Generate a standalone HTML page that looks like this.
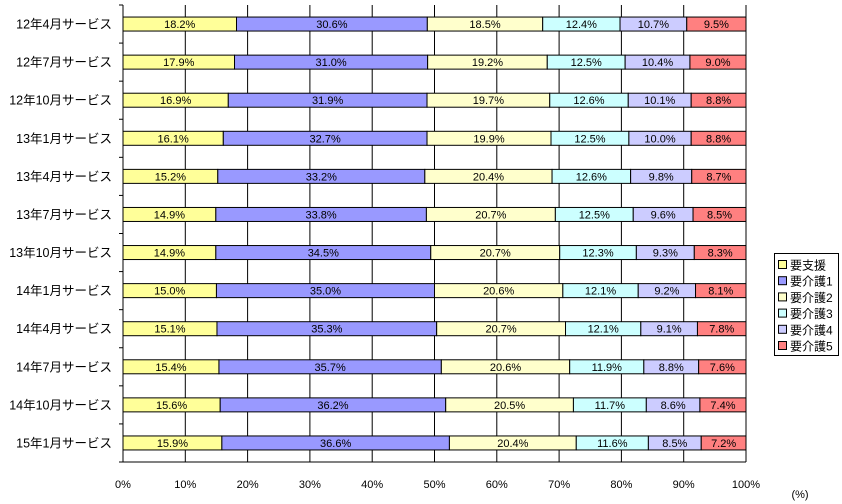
<!DOCTYPE html>
<html><head><meta charset="utf-8">
<style>
body{margin:0;background:#fff;}
svg{display:block;font-family:"Liberation Sans","Noto Sans CJK JP",sans-serif;}
</style></head>
<body>
<svg id="chart" width="842" height="504" viewBox="0 0 842 504"></svg>
<script>
const categories=["12年4月サービス","12年7月サービス","12年10月サービス","13年1月サービス","13年4月サービス","13年7月サービス","13年10月サービス","14年1月サービス","14年4月サービス","14年7月サービス","14年10月サービス","15年1月サービス"];
const seriesNames=["要支援","要介護1","要介護2","要介護3","要介護4","要介護5"];
const s0=[18.2,17.9,16.9,16.1,15.2,14.9,14.9,15.0,15.1,15.4,15.6,15.9];
const s1=[30.6,31.0,31.9,32.7,33.2,33.8,34.5,35.0,35.3,35.7,36.2,36.6];
const s2=[18.5,19.2,19.7,19.9,20.4,20.7,20.7,20.6,20.7,20.6,20.5,20.4];
const s3=[12.4,12.5,12.6,12.5,12.6,12.5,12.3,12.1,12.1,11.9,11.7,11.6];
const s4=[10.7,10.4,10.1,10.0,9.8,9.6,9.3,9.2,9.1,8.8,8.6,8.5];
const s5=[9.5,9.0,8.8,8.8,8.7,8.5,8.3,8.1,7.8,7.6,7.4,7.2];
const xTicks=[0,10,20,30,40,50,60,70,80,90,100];
const series=[s0,s1,s2,s3,s4,s5];
const colors=["#ffff99","#9999ff","#ffffcc","#ccffff","#ccccff","#ff8080"];
const NS="http://www.w3.org/2000/svg";
const svg=document.getElementById("chart");
const L=123,R=746,T=5,B=462;
const band=(B-T)/categories.length;
const xs=v=>L+(R-L)*v/100;
const ys=i=>T+band*i;
function mk(tag,attrs,parent){const e=document.createElementNS(NS,tag);for(const k in attrs)e.setAttribute(k,attrs[k]);(parent||svg).appendChild(e);return e;}
xTicks.forEach(t=>{
  const g=mk("line",{x1:xs(t),x2:xs(t),y1:T,y2:B,stroke:"#000","stroke-width":1});
  
  
  const tx=mk("text",{x:xs(t),y:488,"text-anchor":"middle","font-size":11});
  tx.textContent=t+"%";
  
  
});
for(let i=0;i<=categories.length;i++){
  const tk=mk("line",{x1:L-4,x2:L,y1:ys(i),y2:ys(i),stroke:"#000"});
  
  
}
mk("line",{x1:L,x2:R,y1:B,y2:B,stroke:"#000"});
categories.forEach((c,i)=>{
  const yc=ys(i)+band/2;
  const lab=mk("text",{x:112,y:yc+4.5,"text-anchor":"end","font-size":12.5});
  lab.textContent=c;
  
  
  let total=0;
  series.forEach(s=>{total+=s[i];});
  let acc=0;
  series.forEach((s,j)=>{
    const v=s[i]*100/total;
    const r=mk("rect",{x:xs(acc),y:yc-7,width:xs(acc+v)-xs(acc),height:14,fill:colors[j],stroke:"#000","stroke-width":1});
    
    
    const t=mk("text",{x:(xs(acc)+xs(acc+v))/2,y:yc+4,"text-anchor":"middle","font-size":11});
    t.textContent=s[i].toFixed(1)+"%";
    
    
    acc+=v;
  });
});
const unit=mk("text",{x:800,y:498,"text-anchor":"middle","font-size":11});
unit.textContent="(%)";


const lg=mk("g",{});


mk("rect",{x:774.5,y:253.5,width:64,height:102,fill:"#fff",stroke:"#000"},lg);
seriesNames.forEach((n,j)=>{
  const y=265+j*16.2;
  const g=mk("g",{},lg);
  
  
  mk("rect",{x:778.5,y:y-4.5,width:8,height:8,fill:colors[j],stroke:"#000"},g);
  const t=mk("text",{x:790,y:y+4.5,"font-size":12},g);
  t.textContent=n;
});
</script>
</body></html>
